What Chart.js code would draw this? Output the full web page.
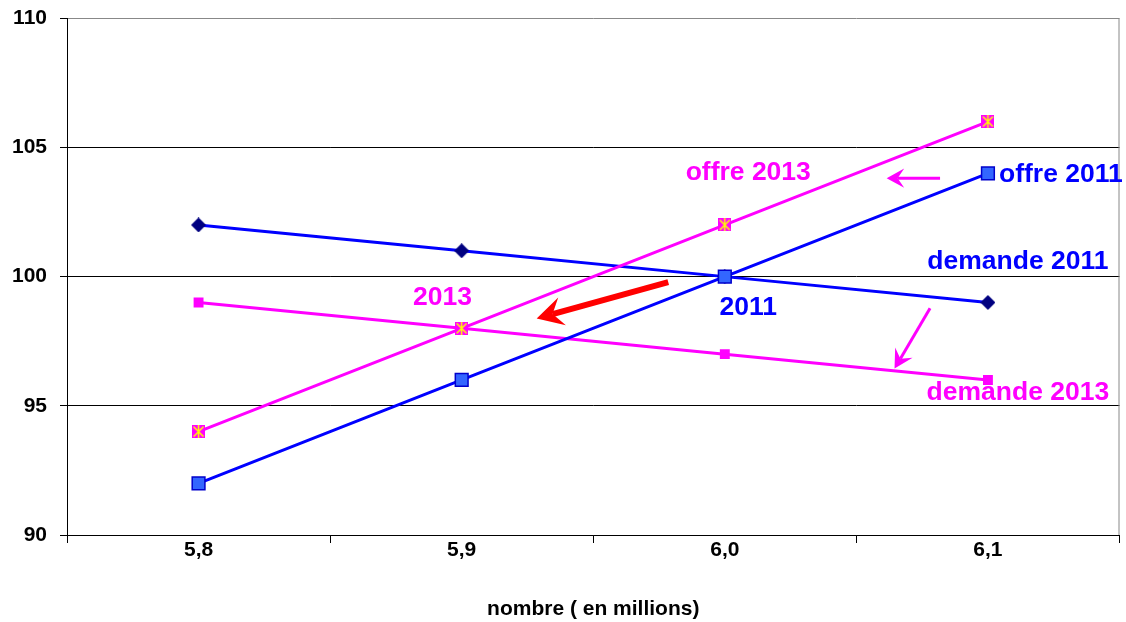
<!DOCTYPE html>
<html>
<head>
<meta charset="utf-8">
<script src="https://cdn.jsdelivr.net/npm/chart.js@4.4.1/dist/chart.umd.min.js"></script>
<style>
  html, body { margin: 0; padding: 0; background: #fff; overflow: hidden; }
  #wrap { width: 1126px; height: 622px; overflow: hidden; }
</style>
</head>
<body>
<div id="wrap"><canvas id="chart" width="1130" height="622"></canvas></div>
<script>
// === DATA ===
const categories = ["5,8", "5,9", "6,0", "6,1"];
const demande2011 = [102, 101, 100, 99];
const offre2011 = [92, 96, 100, 104];
const offre2013 = [94, 98, 102, 106];
const demande2013 = [99, 98, 97, 96];
const yTicks = [90, 95, 100, 105, 110];

// text labels / arrows, placed in data space (x = category index, y = value)
const labels = [
  { text: "offre 2013", x: 2.089, y: 104.04, color: "#ff00ff", align: "center" },
  { text: "offre 2011", x: 3.042, y: 103.93, color: "#0000ff", align: "left" },
  { text: "demande 2011", x: 3.114, y: 100.56, color: "#0000ff", align: "center" },
  { text: "2011", x: 2.089, y: 98.78, color: "#0000ff", align: "center" },
  { text: "2013", x: 0.927, y: 99.17, color: "#ff00ff", align: "center" },
  { text: "demande 2013", x: 3.114, y: 95.49, color: "#ff00ff", align: "center" }
];
const arrows = [
  { from: [2.818, 103.81], to: [2.615, 103.81], color: "#ff00ff", width: 3, head: 20 },
  { from: [1.785, 99.79], to: [1.285, 98.38], color: "#ff0000", width: 6, head: 30 },
  { from: [2.780, 98.78], to: [2.645, 96.44], color: "#ff00ff", width: 3, head: 21 }
];

// === MARKER: magenta square with yellow star ===
function starMarker() {
  const c = document.createElement("canvas");
  c.width = 13; c.height = 13;
  const g = c.getContext("2d");
  g.fillStyle = "#ff00ff";
  g.fillRect(0, 0, 13, 13);
  g.strokeStyle = "#ffff00";
  g.lineWidth = 1.5;
  g.beginPath();
  g.moveTo(1.5, 1.5); g.lineTo(11.5, 11.5);
  g.moveTo(11.5, 1.5); g.lineTo(1.5, 11.5);
  g.moveTo(6.5, 0); g.lineTo(6.5, 13);
  g.stroke();
  return c;
}

function diamondMarker() {
  const c = document.createElement("canvas");
  c.width = 15; c.height = 15;
  const g = c.getContext("2d");
  g.fillStyle = "#000080";
  g.beginPath();
  g.moveTo(7.5, 0); g.lineTo(15, 7.5); g.lineTo(7.5, 15); g.lineTo(0, 7.5);
  g.closePath();
  g.fill();
  return c;
}

// === PLUGIN: labels, arrows, frame ===
const overlay = {
  id: "overlay",
  beforeDatasetsDraw(chart) {
    const { ctx, chartArea: a } = chart;
    ctx.save();
    ctx.strokeStyle = "#888";
    ctx.lineWidth = 1;
    ctx.beginPath();
    ctx.moveTo(a.right - 0.5, a.top);
    ctx.lineTo(a.right - 0.5, a.bottom);
    ctx.stroke();
    ctx.restore();
  },
  afterDatasetsDraw(chart) {
    const { ctx, scales: { x, y } } = chart;
    ctx.save();
    ctx.font = "bold 26.5px 'Liberation Sans', Arial, sans-serif";
    ctx.textBaseline = "middle";
    labels.forEach(l => {
      ctx.fillStyle = l.color;
      ctx.textAlign = l.align;
      ctx.fillText(l.text, x.getPixelForValue(l.x), y.getPixelForValue(l.y));
    });
    arrows.forEach(ar => {
      const x1 = x.getPixelForValue(ar.from[0]), y1 = y.getPixelForValue(ar.from[1]);
      const x2 = x.getPixelForValue(ar.to[0]), y2 = y.getPixelForValue(ar.to[1]);
      const ang = Math.atan2(y2 - y1, x2 - x1);
      const h = ar.head;
      const back = h * 0.55;
      ctx.strokeStyle = ar.color;
      ctx.fillStyle = ar.color;
      ctx.lineWidth = ar.width;
      ctx.beginPath();
      ctx.moveTo(x1, y1);
      ctx.lineTo(x2 - back * Math.cos(ang), y2 - back * Math.sin(ang));
      ctx.stroke();
      // notched head
      const wing = 0.5;
      ctx.beginPath();
      ctx.moveTo(x2, y2);
      ctx.lineTo(x2 - h * Math.cos(ang - wing), y2 - h * Math.sin(ang - wing));
      ctx.lineTo(x2 - back * Math.cos(ang), y2 - back * Math.sin(ang));
      ctx.lineTo(x2 - h * Math.cos(ang + wing), y2 - h * Math.sin(ang + wing));
      ctx.closePath();
      ctx.fill();
    });
    ctx.restore();
  }
};

// === CHART ===
const tickFont = { family: "'Liberation Sans', Arial, sans-serif", size: 21, weight: "bold" };

new Chart(document.getElementById("chart").getContext("2d"), {
  type: "line",
  data: {
    labels: categories,
    datasets: [
      { label: "offre 2011", data: offre2011, borderColor: "#0000ff", borderWidth: 3,
        pointStyle: "rect", pointRadius: 9, pointBackgroundColor: "#3366ff",
        pointBorderColor: "#0000cc", pointBorderWidth: 1.5 },
      { label: "offre 2013", data: offre2013, borderColor: "#ff00ff", borderWidth: 3,
        pointStyle: starMarker(), pointRadius: 6.5 },
      { label: "demande 2011", data: demande2011, borderColor: "#0000ff", borderWidth: 3,
        pointStyle: diamondMarker(), pointRadius: 7.5 },
      { label: "demande 2013", data: demande2013, borderColor: "#ff00ff", borderWidth: 3,
        pointStyle: "rect", pointRadius: 7, pointBackgroundColor: "#ff00ff",
        pointBorderColor: "#ff00ff", pointBorderWidth: 0 }
    ]
  },
  options: {
    responsive: false,
    animation: false,
    layout: { padding: { top: 18, right: 6, left: 0, bottom: 0 } },
    plugins: { legend: { display: false }, tooltip: { enabled: false } },
    elements: { line: { tension: 0 } },
    scales: {
      x: {
        type: "category",
        offset: true,
        grid: { display: true, drawOnChartArea: false, drawTicks: true, tickLength: 8,
          offset: true, color: "#000" },
        border: { color: "#000", width: 1 },
        ticks: { font: tickFont, color: "#000", padding: -5 },
        title: { display: true, text: "nombre ( en millions)", font: tickFont, color: "#000",
          padding: { top: 24, bottom: 0 } },
        afterFit: s => { s.height = 87; s.paddingLeft = 0; s.paddingRight = 0; }
      },
      y: {
        min: 90,
        max: 110,
        afterBuildTicks: s => { s.ticks = yTicks.map(v => ({ value: v })); },
        afterFit: s => { s.width = 67; },
        grid: {
          color: c => (c.tick && c.tick.value === 110 ? "#888" : "#000"),
          tickLength: 7,
          tickColor: "#000"
        },
        border: { color: "#000", width: 1 },
        ticks: { font: { ...tickFont, lineHeight: 0.5 }, color: "#000", padding: 13 }
      }
    }
  },
  plugins: [overlay]
});
</script>
</body>
</html>
